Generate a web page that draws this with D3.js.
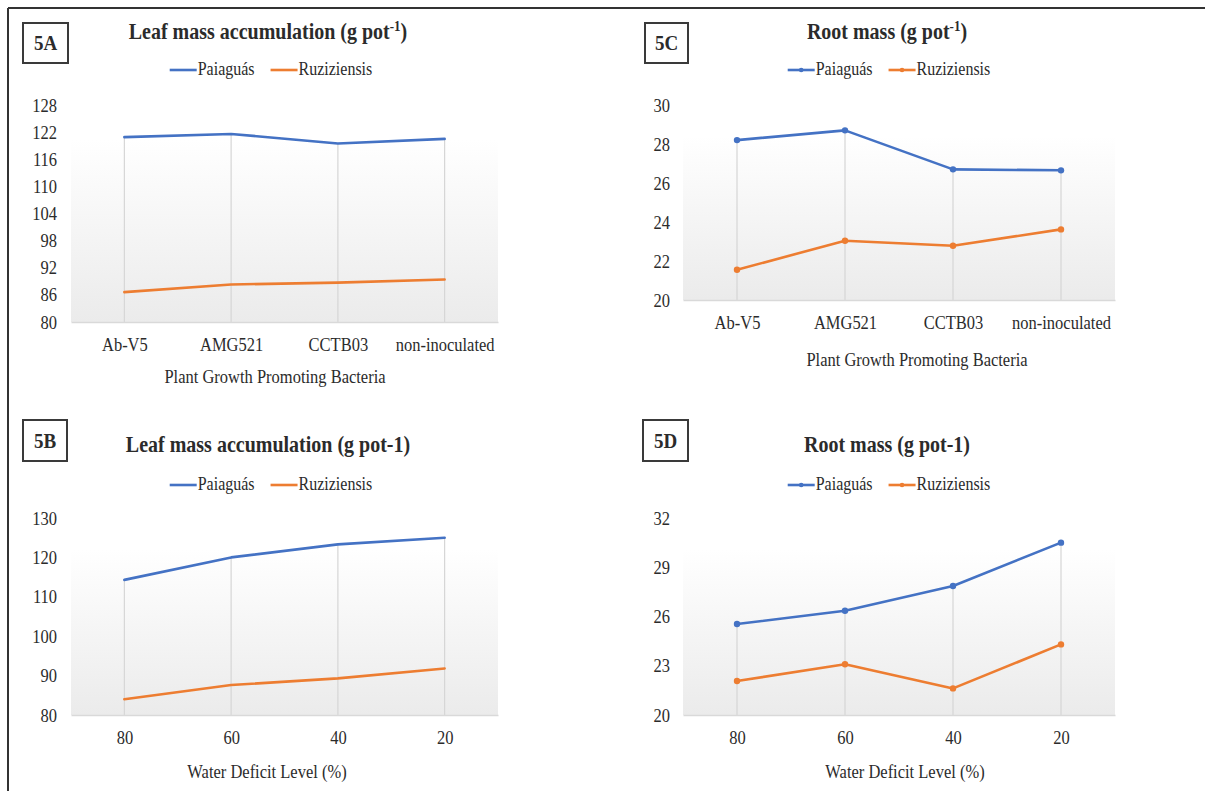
<!DOCTYPE html>
<html>
<head>
<meta charset="utf-8">
<script src="https://cdn.jsdelivr.net/npm/d3@7"></script>
<style>
  html, body { margin: 0; padding: 0; background: #ffffff; }
  svg { display: block; }
  text { font-family: "Liberation Serif", "Times New Roman", serif; fill: #2b2b2b; }
</style>
</head>
<body>
<svg id="fig" width="1205" height="791"></svg>
<script>
// Categories on the x axes
const bacteria = ["Ab-V5", "AMG521", "CCTB03", "non-inoculated"];
const deficitLevels = ["80", "60", "40", "20"];

// Series names
const seriesNames = ["Paiaguás", "Ruziziensis"];
const seriesColors = ["#4472C4", "#ED7D31"];

// 5A: leaf mass by bacteria (g pot-1)
const leafBacteriaPaiaguas = [120.9, 121.6, 119.5, 120.5];
const leafBacteriaRuziziensis = [86.6, 88.3, 88.7, 89.4];

// 5C: root mass by bacteria (g pot-1)
const rootBacteriaPaiaguas = [28.2, 28.7, 26.7, 26.65];
const rootBacteriaRuziziensis = [21.55, 23.04, 22.78, 23.62];

// 5B: leaf mass by water deficit level (g pot-1)
const leafDeficitPaiaguas = [114.3, 120.0, 123.3, 125.0];
const leafDeficitRuziziensis = [84.0, 87.6, 89.3, 91.8];

// 5D: root mass by water deficit level (g pot-1)
const rootDeficitPaiaguas = [25.54, 26.35, 27.86, 30.5];
const rootDeficitRuziziensis = [22.07, 23.09, 21.62, 24.3];

// y-axis tick labels
const ticksA = [80, 86, 92, 98, 104, 110, 116, 122, 128];
const ticksC = [20, 22, 24, 26, 28, 30];
const ticksB = [80, 90, 100, 110, 120, 130];
const ticksD = [20, 23, 26, 29, 32];

// Glyphs are drawn slightly taller than wide
const STRETCH = 1.15;

const svg = d3.select("#fig");

// Text placed at (x, y) with a vertical stretch applied to its glyphs
function label(parent, x, y, str, size, opts = {}) {
  const t = parent.append("text")
    .attr("transform", `translate(${x},${y}) scale(1,${STRETCH})`)
    .attr("font-size", size)
    .attr("text-anchor", opts.anchor || "start");
  if (opts.bold) t.attr("font-weight", "bold");
  if (str !== null) t.text(str);
  return t;
}

// Shared plot-area gradient
const defs = svg.append("defs");
const grad = defs.append("linearGradient")
  .attr("id", "plotFill").attr("x1", 0).attr("y1", 0).attr("x2", 0).attr("y2", 1);
grad.append("stop").attr("offset", "0%").attr("stop-color", "#ffffff");
grad.append("stop").attr("offset", "100%").attr("stop-color", "#ebebeb");

// Figure frame (top and left rules)
svg.append("line").attr("x1", 8).attr("x2", 1205).attr("y1", 8).attr("y2", 8)
  .attr("stroke", "#333").attr("stroke-width", 2);
svg.append("line").attr("x1", 8).attr("x2", 8).attr("y1", 8).attr("y2", 791)
  .attr("stroke", "#333").attr("stroke-width", 2);

const panels = [
  {
    tag: "5A", title: "Leaf mass accumulation (g pot", sup: "-1", tail: ")",
    cats: bacteria, series: [leafBacteriaPaiaguas, leafBacteriaRuziziensis], ticks: ticksA,
    markers: false,
    box: [23, 23, 45, 40], titleX: 268, titleY: 39, legendX: 271, legendY: 70,
    plot: { left: 71, right: 498, top: 105, bottom: 322 }, yLabelPad: 14,
    xTitle: "Plant Growth Promoting Bacteria", xTitleX: 275, xTitleY: 383
  },
  {
    tag: "5C", title: "Root mass (g pot", sup: "-1", tail: ")",
    cats: bacteria, series: [rootBacteriaPaiaguas, rootBacteriaRuziziensis], ticks: ticksC,
    markers: true,
    box: [645, 23, 43, 40], titleX: 887, titleY: 39, legendX: 889, legendY: 70,
    plot: { left: 683, right: 1115, top: 105, bottom: 300 }, yLabelPad: 13,
    xTitle: "Plant Growth Promoting Bacteria", xTitleX: 917, xTitleY: 366
  },
  {
    tag: "5B", title: "Leaf mass accumulation (g pot-1)", sup: null, tail: "",
    cats: deficitLevels, series: [leafDeficitPaiaguas, leafDeficitRuziziensis], ticks: ticksB,
    markers: false,
    box: [23, 420, 44, 41], titleX: 268, titleY: 452, legendX: 271, legendY: 485,
    plot: { left: 71, right: 498, top: 518, bottom: 715 }, yLabelPad: 14,
    xTitle: "Water Deficit Level (%)", xTitleX: 267, xTitleY: 778
  },
  {
    tag: "5D", title: "Root mass (g pot-1)", sup: null, tail: "",
    cats: deficitLevels, series: [rootDeficitPaiaguas, rootDeficitRuziziensis], ticks: ticksD,
    markers: true,
    box: [643, 420, 45, 41], titleX: 887, titleY: 452, legendX: 889, legendY: 485,
    plot: { left: 683, right: 1115, top: 518, bottom: 715 }, yLabelPad: 13,
    xTitle: "Water Deficit Level (%)", xTitleX: 905, xTitleY: 778
  }
];

panels.forEach(p => {
  const g = svg.append("g");
  const { left, right, top, bottom } = p.plot;

  const x = d3.scalePoint().domain(p.cats).range([left, right]).padding(0.5);
  const y = d3.scaleLinear().domain(d3.extent(p.ticks)).range([bottom, top]);

  // Panel tag box
  g.append("rect")
    .attr("x", p.box[0]).attr("y", p.box[1]).attr("width", p.box[2]).attr("height", p.box[3])
    .attr("fill", "#fff").attr("stroke", "#3a3a3a").attr("stroke-width", 2);
  label(g, p.box[0] + p.box[2] / 2, p.box[1] + p.box[3] / 2 + 7, p.tag, 19,
        { anchor: "middle", bold: true });

  // Title
  const t = label(g, p.titleX, p.titleY, null, 20, { anchor: "middle", bold: true });
  t.append("tspan").text(p.title);
  if (p.sup) {
    t.append("tspan").attr("font-size", 13).attr("dy", -7).text(p.sup);
    t.append("tspan").attr("dy", 7).text(p.tail);
  }

  // Legend, centred on legendX
  const lg = g.append("g");
  let cx = 0;
  seriesNames.forEach((name, i) => {
    const item = lg.append("g").attr("transform", `translate(${cx},0)`);
    item.append("line").attr("x1", 0).attr("x2", 27).attr("y1", 0).attr("y2", 0)
      .attr("stroke", seriesColors[i]).attr("stroke-width", 2.6);
    if (p.markers) {
      item.append("circle").attr("cx", 13.5).attr("cy", 0).attr("r", 2.3)
        .attr("fill", seriesColors[i]);
    }
    const txt = label(item, 28, 5, name, 16);
    cx += 28 + txt.node().getComputedTextLength() + 16;
  });
  const legendW = cx - 16;
  lg.attr("transform", `translate(${p.legendX - legendW / 2},${p.legendY})`);

  // Plot-area shading (lower part of the plot area)
  const shadeTop = top + (bottom - top) * 0.16;
  g.append("rect")
    .attr("x", left).attr("y", shadeTop)
    .attr("width", right - left).attr("height", bottom - shadeTop)
    .attr("fill", "url(#plotFill)");

  // Drop lines from the highest point of each category to the axis
  g.append("g").selectAll("line").data(p.cats).join("line")
    .attr("x1", d => x(d)).attr("x2", d => x(d))
    .attr("y1", (d, i) => y(d3.max(p.series, s => s[i])))
    .attr("y2", bottom)
    .attr("stroke", "#d6d6d6").attr("stroke-width", 1.2);

  // y axis (labels only)
  const ya = g.append("g").attr("transform", `translate(${left},0)`)
    .call(d3.axisLeft(y).tickValues(p.ticks).tickSize(0).tickPadding(p.yLabelPad));
  ya.select(".domain").remove();
  ya.selectAll("text")
    .attr("font-size", 16.5).attr("font-family", null).attr("fill", null)
    .attr("transform", `scale(1,${STRETCH})`);

  // x axis with category labels
  const xa = g.append("g").attr("transform", `translate(0,${bottom})`)
    .call(d3.axisBottom(x).tickSize(0).tickPadding(16));
  xa.select(".domain").attr("stroke", "#d9d9d9").attr("stroke-width", 1.5);
  xa.selectAll("text")
    .attr("font-size", 16.5).attr("font-family", null).attr("fill", null)
    .attr("y", 16 / STRETCH)
    .attr("transform", `scale(1,${STRETCH})`);
  ya.attr("font-family", null);
  xa.attr("font-family", null);

  // Series lines
  const line = d3.line().x((d, i) => x(p.cats[i])).y(d => y(d));
  p.series.forEach((s, k) => {
    g.append("path").datum(s)
      .attr("d", line).attr("fill", "none")
      .attr("stroke", seriesColors[k]).attr("stroke-width", 2.6)
      .attr("stroke-linejoin", "round").attr("stroke-linecap", "round");
    if (p.markers) {
      g.append("g").selectAll("circle").data(s).join("circle")
        .attr("cx", (d, i) => x(p.cats[i])).attr("cy", d => y(d)).attr("r", 3.2)
        .attr("fill", seriesColors[k]);
    }
  });

  // x-axis title
  label(g, p.xTitleX, p.xTitleY, p.xTitle, 16.5, { anchor: "middle" });
});
</script>
</body>
</html>
